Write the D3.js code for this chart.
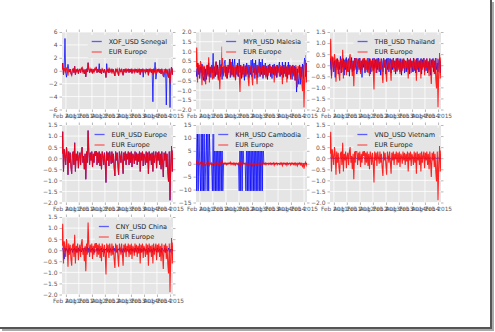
<!DOCTYPE html>
<html><head><meta charset="utf-8">
<script src="https://cdn.jsdelivr.net/npm/d3@7"></script>
<style>body{margin:0;background:#fff}svg{display:block}</style>
</head><body>
<svg id="c" width="495" height="332"></svg>
<script>
// ---------- data ----------
const EUR = [0.2,1.2,-0.6,0.4,0.1,-0.3,0.5,0.2,-0.75,0.3,
 -0.2,0.25,-0.4,-0.7,0.2,0.3,-0.3,0.7,-0.6,0.2,
 -0.1,0.3,-0.45,0.1,0.25,-0.3,0.3,0.5,-0.2,0.1,
 -0.5,0.2,-0.95,0.3,-0.2,1.25,0.3,-0.3,0.25,-0.1,
 0.3,-0.4,0.2,-0.2,0.3,0.1,0.6,-0.3,0.25,-0.2,
 0.3,-0.35,0.2,-0.5,0.3,0.1,-0.3,0.25,-0.2,-1.1,
 0.3,-0.1,0.25,-0.35,0.3,0.05,-0.25,0.3,-0.2,0.2,
 -0.4,-0.8,0.3,-0.1,0.25,-0.3,-0.75,0.3,0.1,-0.2,
 0.3,-0.15,-0.7,0.25,-0.1,0.3,-0.3,0.2,-0.05,0.3,
 -0.3,0.25,-0.2,0.3,-0.4,0.2,0.1,-0.25,0.3,-0.1,
 0.25,-0.3,0.2,-0.15,0.3,-0.6,0.25,-0.1,0.3,-0.35,
 0.2,0.05,-0.3,0.3,-0.2,0.25,-0.7,0.3,-0.1,0.2,
 -0.3,0.25,-0.6,0.3,-0.2,0.1,0.3,-0.45,0.25,-0.1,
 0.3,-0.3,0.2,-0.5,0.3,-0.2,-0.85,0.25,-0.1,0.3,
 -0.4,0.2,-0.6,-1.05,0.3,-1.9,-0.2,0.55,-0.6,0.35];

const XOF = [0.2,1.2,-0.6,0.4,5.0,-0.3,-1.0,0.2,1.0,0.3,
 -0.2,0.25,-0.4,-0.7,0.2,0.3,-0.3,0.7,-0.6,0.2,
 -0.1,0.3,-0.45,0.1,0.25,-0.3,0.3,0.5,-0.2,0.1,
 -0.5,0.2,-0.95,0.3,-0.2,1.25,0.3,-0.3,0.25,-0.1,
 0.3,-0.4,0.2,-0.2,0.3,0.1,0.6,-0.3,0.25,-0.2,
 1.1,-0.35,0.2,-0.5,0.3,0.1,-0.3,0.25,-0.2,-1.0,
 1.1,-0.1,0.25,-0.35,0.3,0.05,-0.25,0.3,-0.2,0.2,
 -0.4,-0.8,0.3,-0.1,0.25,-0.3,-0.75,0.3,0.1,-0.2,
 0.3,-0.15,-0.7,0.25,-0.1,0.3,-0.3,0.2,-0.05,0.3,
 -0.3,0.25,-0.2,0.3,-0.4,0.2,0.1,-0.25,0.3,-0.1,
 0.25,-0.3,0.2,-0.15,0.3,-0.6,0.25,-0.1,0.3,-1.0,
 0.2,0.05,-0.3,0.3,-0.2,0.25,-0.7,0.3,-0.1,0.2,
 -0.3,0.25,-4.8,0.3,-0.2,1.3,-1.3,-0.45,0.25,-0.1,
 0.3,-0.3,0.2,-0.5,0.3,-0.2,-0.85,-1.0,-0.1,0.3,
 -5.3,0.2,-0.6,-1.05,0.3,-5.7,-0.2,0.55,-0.6,0.35];

const MYR = [0.1,-0.3,0.4,-0.2,0.3,-0.4,0.2,-0.1,0.35,-0.3,
 -0.5,0.2,-0.55,0.1,-0.45,0.3,-0.2,0.4,-0.3,0.2,
 -0.35,0.3,-0.1,0.9,-0.4,0.2,-0.3,0.45,-0.2,0.3,
 -0.4,0.1,0.55,-0.3,0.35,-0.45,0.2,-0.2,0.4,0.55,
 -0.3,0.2,-0.4,0.3,-0.1,0.6,-0.35,0.45,-0.2,0.6,
 -0.3,0.3,0.6,-0.45,0.2,-0.2,0.4,-0.3,0.6,-0.1,
 0.3,-0.4,0.2,-0.2,0.35,-0.5,0.25,-0.3,0.4,-0.15,
 0.3,-0.35,0.2,-0.2,0.55,-0.3,0.6,-0.1,0.4,-0.4,
 0.55,-0.2,0.3,-0.35,0.2,0.6,-0.3,0.45,-0.2,0.6,
 -0.4,0.3,-0.2,0.4,-0.3,0.25,-0.45,0.3,-0.1,0.35,
 -0.3,0.2,-0.4,0.3,-0.2,0.35,-0.25,0.2,-0.35,0.3,
 -0.1,0.25,0.45,-0.3,0.2,-0.2,0.45,-0.35,0.3,-0.15,
 0.45,-0.3,0.2,-0.4,0.45,-0.2,0.3,-0.35,0.2,-0.45,
 0.3,-0.2,0.25,-0.5,0.2,-1.1,0.1,-0.4,-0.7,0.3,
 -0.7,0.2,-0.3,0.35,-0.4,0.3,0.8,-0.3,0.4,-0.6];

const THB = [-0.2,0.3,-0.5,0.1,0.35,-0.3,0.2,-0.55,0.25,-0.1,
 0.3,-0.4,0.15,-0.2,0.4,-0.35,0.2,-0.1,0.3,-0.45,
 0.25,-0.2,0.35,-0.3,0.1,0.3,-0.5,0.2,-0.15,0.35,
 -0.3,0.2,-0.25,0.4,-0.1,0.3,-0.4,0.15,0.3,-0.2,
 0.35,-0.3,0.2,-0.55,0.25,-0.1,0.3,-0.35,0.2,0.1,
 -0.3,0.35,-0.2,0.3,-0.4,0.2,-0.1,0.3,-0.25,0.35,
 -0.15,0.25,-0.35,0.3,-0.2,0.4,-0.3,0.15,-0.45,0.3,
 0.2,-0.3,0.35,-0.1,0.25,-0.4,0.3,-0.2,0.35,-0.3,
 0.1,0.3,-0.35,0.25,-0.2,0.4,-0.15,0.2,-0.4,0.3,
 -0.25,0.35,-0.1,0.2,-0.3,0.3,-0.45,0.25,-0.15,0.3,
 -0.35,0.2,0.1,-0.3,0.35,-0.2,0.25,-0.4,0.3,-0.1,
 0.2,-0.3,0.35,-0.25,0.15,-0.35,0.3,-0.2,0.4,-0.3,
 0.2,-0.15,0.3,-0.4,0.25,-0.1,0.35,-0.3,0.2,-0.25,
 0.3,-0.35,0.15,-0.2,0.3,-0.45,0.25,-0.1,0.3,-0.3,
 0.2,-0.4,0.35,-0.2,0.1,-0.3,0.25,0.3,-0.35,0.2];

const KHR = [11.5,-10.5,11.5,-10.5,11.5,0,-10.5,11.5,-10.5,11.5,
 -10.5,11.5,-10.5,0,11.5,-10.5,11.5,-10.5,11.5,0.1,
 -0.2,0,-10.5,11.5,-10.5,11.5,-10.5,11.5,-10.5,11.5,
 -10.5,11.5,-10.5,11.5,-10.5,11.5,-10.5,0.1,0,-0.1,
 0.1,0,0,-0.1,0.1,0,0.05,-0.05,0,0.1,
 -0.1,0,0.05,0,-0.1,0.1,0,0,-10.5,11.5,
 -10.5,11.5,-10.5,11.5,0,0.1,0,-10.5,11.5,-10.5,
 11.5,-10.5,11.5,-10.5,11.5,-10.5,11.5,-10.5,11.5,-10.5,
 11.5,-10.5,11.5,-10.5,11.5,-10.5,11.5,-10.5,11.5,-10.5,
 11.5,0,0.1,-0.1,0,0.05,0,-0.05,0.1,0,
 -0.1,0,0.05,0,0.1,-0.05,0,0,0.1,-0.1,
 0,0.05,0,-0.1,0.1,0,0,-0.05,0.05,0,
 0.1,-0.1,0,0.05,0,-0.05,0.1,0,-0.1,0,
 0.05,0,0.1,-0.05,0,0,0.1,-0.1,0,0.05,
 0,-0.05,0.1,0,-0.1,0,0.05,0,0.1,-0.05];

const VND = [0,0.01,-0.01,0,0.02,0,-0.01,0.01,0,0,
 -0.02,0.01,0,0,0.01,-0.01,0,0.02,0,-0.01,
 0,0.01,0,-0.01,0.01,0,0,0.01,-0.02,0,
 0.01,0,-0.01,0,0.02,0,-0.01,0,0.01,0,
 0,-0.01,0.01,0,0,0.02,-0.01,0,0.01,0,
 -0.01,0,0.01,0,-0.02,0.01,0,0,0.01,-0.01,
 0,0.02,0,-0.01,0,0.01,0,0,-0.01,0.01,
 0,0,0.02,-0.01,0,0.01,0,-0.01,0,0.01,
 0,-0.02,0.01,0,0,0.01,-0.01,0,0.02,0,
 -0.01,0,0.01,0,0,-0.01,0.01,0,0.02,0,
 -0.01,0,0.01,0,-0.01,0,0.02,0,-0.01,0.01,
 0,0,0.01,-0.01,0,0.02,0,-0.01,0,0.01,
 0,-0.01,0.01,0,0,0.02,-0.01,0,0.01,0,
 -0.01,0,0.01,0,-0.02,0.01,0,0,0.01,-0.01,
 0,0.02,0,-0.01,0,0.01,0,-0.03,0.01,0];

const CNY = [0.1,0.05,-0.1,-0.4,0.1,-0.05,0.08,0,-0.1,0.05,
 0.1,-0.05,0,0.08,-0.1,0.05,0,0.1,-0.05,0.05,
 -0.1,0,0.1,-0.05,0.05,0,-0.08,0.1,0,-0.05,
 0.05,0.12,-0.05,0,0.15,-0.1,0.1,0,-0.05,0.05,
 0,0.1,-0.05,0.05,-0.1,0,0.08,-0.05,0.1,0,
 -0.05,0.05,0,0.1,-0.08,0,0.05,-0.1,0.05,0,
 0.1,-0.05,0,0.05,-0.1,0.08,0,-0.05,0.05,0,
 0.1,-0.05,0.05,0,-0.1,0.05,0,0.1,-0.05,0,
 0.05,-0.1,0.08,0,-0.05,0.1,0,-0.05,0.05,0,
 -0.1,0.05,0,0.08,-0.05,0.05,0,-0.1,0.1,0,
 -0.05,0.05,0.1,-0.05,0,0.08,-0.1,0.05,0,-0.05,
 0.1,0,-0.05,0.05,0,-0.1,0.1,0.05,-0.05,0,
 0.05,-0.1,0,0.1,-0.05,0.05,0,-0.08,0.1,0,
 -0.05,0.05,0,-0.1,0.1,0.05,-0.05,0,0.1,-0.1,
 0.05,0,-0.05,0.1,0,-0.1,0.05,0,0.05,-0.05];

const seriesNames = ["XOF_USD Senegal","MYR_USD Malesia","THB_USD Thailand",
  "EUR_USD Europe","KHR_USD Cambodia","VND_USD Vietnam","CNY_USD China"];
const seriesValues = [XOF, MYR, THB, EUR, KHR, VND, CNY];
const refName = "EUR Europe";
const yTicksXOF = [-6,-4,-2,0,2,4,6];
const yTicksMYR = [-2,-1.5,-1,-0.5,0,0.5,1,1.5,2];
const yTicksStd = [-2,-1.5,-1,-0.5,0,0.5,1,1.5];
const yTicksKHR = [-15,-10,-5,0,5,10,15];
const panelYTicks = [yTicksXOF, yTicksMYR, yTicksStd, yTicksStd, yTicksKHR, yTicksStd, yTicksStd];
const xTickDates = ["2011-02-01","2011-08-01","2012-02-01","2012-08-01","2013-02-01",
  "2013-08-01","2014-02-01","2014-08-01","2015-02-01"];
const xStart = "2010-12-08", xEnd = "2015-03-14";

// ---------- layout ----------
const W = 111, H = 77.5;
const colX = [62, 196, 330], rowY = [32, 125, 217];
const FONT = "DejaVu Sans";
const parse = d3.utcParse("%Y-%m-%d");
const d0 = parse(xStart), d1 = parse(xEnd);
const nPts = EUR.length;
const spanDays = d3.utcDay.count(d0, d1);
const dates = EUR.map((_, i) => d3.utcDay.offset(d0, Math.round(i * spanDays / (nPts - 1))));
const tickDates = xTickDates.map(parse);
const fmtX = d3.utcFormat("%b %Y");

const svg = d3.select("#c");
svg.append("rect").attr("width",495).attr("height",332).attr("fill","#fff");

const fmtY = (ticks) => {
  const dec = ticks.some(t => !Number.isInteger(t));
  return t => { const s = dec ? Math.abs(t).toFixed(1) : String(Math.abs(t)); return t < 0 ? "\u2212" + s : s; };
};

seriesValues.forEach((vals, k) => {
  const cx = colX[k % 3], cy = rowY[Math.floor(k / 3)];
  const ticks = panelYTicks[k];
  const g = svg.append("g").attr("transform", `translate(${cx},${cy})`);
  const x = d3.scaleUtc().domain([d0, d1]).range([0, W]);
  const y = d3.scaleLinear().domain([ticks[0], ticks[ticks.length-1]]).range([H, 0]);

  g.append("rect").attr("width", W).attr("height", H).attr("fill", "#E5E5E5");
  g.selectAll(".gx").data(tickDates).join("line")
    .attr("x1", d => x(d)).attr("x2", d => x(d)).attr("y1", 0).attr("y2", H)
    .attr("stroke", "#fff").attr("stroke-width", 0.8);
  g.selectAll(".gy").data(ticks).join("line")
    .attr("y1", d => y(d)).attr("y2", d => y(d)).attr("x1", 0).attr("x2", W)
    .attr("stroke", "#fff").attr("stroke-width", 0.8);

  const styleAxis = sel => {
    sel.select(".domain").remove();
    sel.selectAll(".tick line").attr("stroke", "#888").attr("stroke-width", 0.6);
    sel.selectAll("text").attr("fill", "#555").attr("font-family", FONT);
  };
  g.append("g").attr("transform", `translate(0,${H})`)
    .call(d3.axisBottom(x).tickValues(tickDates).tickSize(2.5).tickPadding(2).tickFormat(fmtX))
    .call(styleAxis).selectAll("text").attr("font-size", 5.8);
  g.append("g")
    .call(d3.axisTop(x).tickValues(tickDates).tickSize(2.5).tickFormat(""))
    .call(styleAxis);
  g.append("g")
    .call(d3.axisLeft(y).tickValues(ticks).tickSize(2.5).tickPadding(2).tickFormat(fmtY(ticks)))
    .call(styleAxis).selectAll("text").attr("font-size", 6);
  g.append("g").attr("transform", `translate(${W},0)`)
    .call(d3.axisRight(y).tickValues(ticks).tickSize(2.5).tickFormat(""))
    .call(styleAxis);

  const clipId = "clip" + k;
  g.append("clipPath").attr("id", clipId).append("rect").attr("width", W).attr("height", H);
  const line = d3.line().x((d, i) => x(dates[i])).y(d => y(d));
  const lg = g.append("g").attr("clip-path", `url(#${clipId})`);
  lg.append("path").datum(vals).attr("d", line).attr("fill", "none")
    .attr("stroke", "#0000ff").attr("stroke-opacity", 0.75).attr("stroke-width", 1);
  lg.append("path").datum(EUR).attr("d", line).attr("fill", "none")
    .attr("stroke", "#ff0000").attr("stroke-opacity", 0.85).attr("stroke-width", 1.1);

  const leg = g.append("g");
  const names = [seriesNames[k], refName];
  const cols = ["#3a3aff", "#ff3a3a"];
  const bg = leg.append("rect").attr("fill", "#E5E5E5");
  const texts = names.map((n, j) => leg.append("text").text(n)
    .attr("font-family", FONT).attr("font-size", 6.5).attr("fill", "#222")
    .attr("y", 9.5 + j * 10.5).attr("dy", "0.35em"));
  const tw = d3.max(texts, t => t.node().getComputedTextLength());
  const tx = W - 6 - tw;
  texts.forEach(t => t.attr("x", tx));
  names.forEach((n, j) => leg.append("line")
    .attr("x1", tx - 17).attr("x2", tx - 7).attr("y1", 9.5 + j * 10.5).attr("y2", 9.5 + j * 10.5)
    .attr("stroke", cols[j]).attr("stroke-opacity", 0.8).attr("stroke-width", 1.3));
  bg.attr("x", tx - 21).attr("y", 3).attr("width", tw + 25).attr("height", 23);
});

// screenshot frame shadow
svg.append("line").attr("x1", 491).attr("x2", 491).attr("y1", 0).attr("y2", 329).attr("stroke", "#555").attr("stroke-width", 2);
svg.append("line").attr("x1", 0).attr("x2", 492).attr("y1", 328).attr("y2", 328).attr("stroke", "#555").attr("stroke-width", 2);
svg.append("line").attr("x1", 493).attr("x2", 493).attr("y1", 2).attr("y2", 331).attr("stroke", "#aaa").attr("stroke-width", 2);
svg.append("line").attr("x1", 2).attr("x2", 494).attr("y1", 330).attr("y2", 330).attr("stroke", "#aaa").attr("stroke-width", 2);
</script>
</body></html>
